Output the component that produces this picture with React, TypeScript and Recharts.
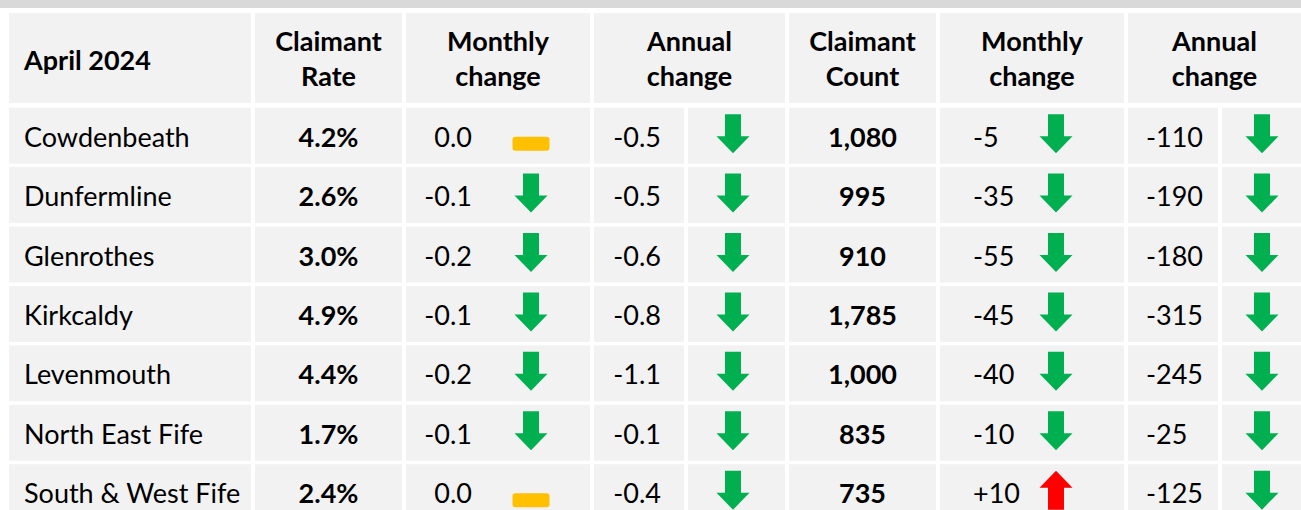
import { Scatter, ScatterChart, XAxis, YAxis } from 'recharts';

// April 2024 claimant figures by Fife area
const areas = [
  'Cowdenbeath',
  'Dunfermline',
  'Glenrothes',
  'Kirkcaldy',
  'Levenmouth',
  'North East Fife',
  'South & West Fife',
];
const claimantRate = [4.2, 2.6, 3.0, 4.9, 4.4, 1.7, 2.4];
const rateMonthly = [0.0, -0.1, -0.2, -0.1, -0.2, -0.1, 0.0];
const rateAnnual = [-0.5, -0.5, -0.6, -0.8, -1.1, -0.1, -0.4];
const claimantCount = [1080, 995, 910, 1785, 1000, 835, 735];
const countMonthly = [-5, -35, -55, -45, -40, -10, 10];
const countAnnual = [-110, -190, -180, -315, -245, -25, -125];
const headers = [
  ['April 2024'],
  ['Claimant', 'Rate'],
  ['Monthly', 'change'],
  ['Annual', 'change'],
  ['Claimant', 'Count'],
  ['Monthly', 'change'],
  ['Annual', 'change'],
];

const W = 1301;
const H = 510;
const FONT = 'Lato, "Open Sans", sans-serif';
const FS = 27;
const CELL = '#f2f2f2';
const GREEN = '#00b050';
const RED = '#ff0000';
const AMBER = '#ffc000';
const HEADER_H = 106;

const headerSpans = [
  [9, 251],
  [255, 402],
  [406, 590],
  [594, 785],
  [789, 936],
  [940, 1124],
  [1128, 1301],
];
const headerCenters = headerSpans.map(([a, b]) => (a + b) / 2);

const fmtRate = (v: number) => `${v.toFixed(1)}%`;
const fmtDelta1 = (v: number) => (v > 0 ? '+' : '') + v.toFixed(1);
const fmtInt = (v: number) => v.toLocaleString('en-GB');
const fmtDeltaInt = (v: number) => (v > 0 ? '+' : '') + String(v);

type Col = {
  x0: number;
  x1: number;
  values?: (string | number)[];
  fmt?: (v: any) => string;
  align?: 'start' | 'middle' | 'end';
  textAt?: number;
  bold?: boolean;
  icons?: number[];
  iconAt?: number;
};

const columns: Col[] = [
  { x0: 9, x1: 251, values: areas, fmt: (v) => v, align: 'start', textAt: 15 },
  { x0: 255, x1: 402, values: claimantRate, fmt: fmtRate, align: 'middle', bold: true },
  { x0: 406, x1: 590, values: rateMonthly, fmt: fmtDelta1, align: 'end', textAt: 66, icons: rateMonthly, iconAt: 125 },
  { x0: 594, x1: 684, values: rateAnnual, fmt: fmtDelta1, align: 'end', textAt: 67 },
  { x0: 688, x1: 785, icons: rateAnnual, iconAt: 45 },
  { x0: 789, x1: 936, values: claimantCount, fmt: fmtInt, align: 'middle', bold: true },
  { x0: 940, x1: 1124, values: countMonthly, fmt: fmtDeltaInt, align: 'start', textAt: 33, icons: countMonthly, iconAt: 116 },
  { x0: 1128, x1: 1218, values: countAnnual, fmt: fmtDeltaInt, align: 'start', textAt: 18 },
  { x0: 1222, x1: 1301, icons: countAnnual, iconAt: 40 },
];

function Icon({ x, y, v }: { x: number; y: number; v: number }) {
  if (v === 0) {
    return <rect x={x - 18.5} y={y + 1} width={37} height={14} rx={3} fill={AMBER} />;
  }
  const h = 39;
  const head = 17;
  const sw = 8;
  const hw = 16.5;
  const cy = y - 2;
  const top = cy - h / 2;
  let pts = [
    [x - sw, top],
    [x + sw, top],
    [x + sw, top + h - head],
    [x + hw, top + h - head],
    [x, top + h],
    [x - hw, top + h - head],
    [x - sw, top + h - head],
  ];
  if (v > 0) pts = pts.map(([px, py]) => [px, 2 * cy - py]);
  return <polygon points={pts.map((p) => p.join(',')).join(' ')} fill={v > 0 ? RED : GREEN} />;
}

function makeShape(col: Col) {
  return (props: any) => {
    const { cx, cy, payload } = props;
    const i = payload.row;
    const w = col.x1 - col.x0;
    const x0 = cx - w / 2;
    let tx = cx;
    if (col.align === 'start' || col.align === 'end') tx = x0 + (col.textAt ?? 0);
    return (
      <g>
        <rect x={x0} y={cy - 28} width={w} height={56} fill={CELL} />
        {col.values && (
          <text
            x={tx}
            y={cy + 11}
            textAnchor={col.align}
            fontFamily={FONT}
            fontSize={FS}
            fontWeight={col.bold ? 700 : 400}
            fill="#000"
          >
            {col.fmt!(col.values[i])}
          </text>
        )}
        {col.icons && <Icon x={x0 + (col.iconAt ?? 0)} y={cy} v={col.icons[i]} />}
      </g>
    );
  };
}

function HeaderTick(props: any) {
  const { y, payload } = props;
  const i = headerCenters.indexOf(payload.value);
  if (i < 0) return null;
  const [a, b] = headerSpans[i];
  const lines = headers[i];
  return (
    <g>
      <rect x={a} y={y - 93} width={b - a} height={90} fill={CELL} />
      {lines.length === 1 ? (
        <text x={a + 15} y={y - 36} fontFamily={FONT} fontSize={FS} fontWeight={700} fill="#000">
          {lines[0]}
        </text>
      ) : (
        lines.map((t, k) => (
          <text
            key={k}
            x={(a + b) / 2}
            y={y - 55 + k * 35}
            textAnchor="middle"
            fontFamily={FONT}
            fontSize={FS}
            fontWeight={700}
            fill="#000"
          >
            {t}
          </text>
        ))
      )}
    </g>
  );
}

export default function App() {
  return (
    <div style={{ position: 'fixed', left: 0, top: 0, width: W, height: H, background: '#fff' }}>
      <div style={{ position: 'absolute', left: 0, top: 0, width: W, height: 8, background: '#d9d9d9' }} />
      <ScatterChart width={W} height={H} margin={{ top: 0, right: 0, bottom: 0, left: 0 }}>
        <XAxis
          type="number"
          dataKey="x"
          orientation="top"
          domain={[0, W]}
          allowDataOverflow
          ticks={headerCenters}
          interval={0}
          height={HEADER_H}
          tickLine={false}
          axisLine={false}
          tickSize={0}
          tickMargin={0}
          tick={HeaderTick}
        />
        <YAxis type="number" dataKey="y" domain={[-0.5, 6.3]} reversed hide allowDataOverflow />
        {columns.map((col, c) => (
          <Scatter
            key={c}
            data={areas.map((_, i) => ({ x: (col.x0 + col.x1) / 2, y: i, row: i }))}
            shape={makeShape(col)}
            isAnimationActive={false}
          />
        ))}
      </ScatterChart>
    </div>
  );
}
